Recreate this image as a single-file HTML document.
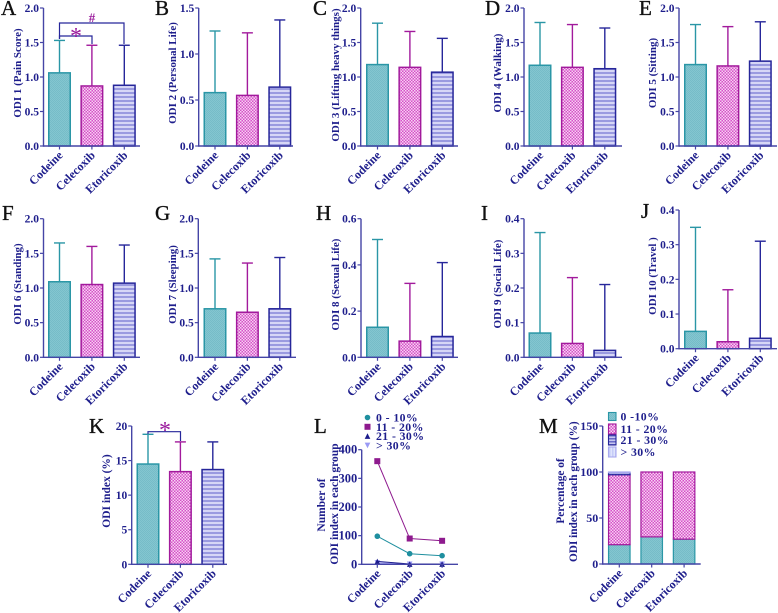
<!DOCTYPE html>
<html lang="en">
<head>
<meta charset="utf-8">
<title>ODI scores by treatment group</title>
<style>
html,body{margin:0;padding:0;background:#fff;width:778px;height:613px;overflow:hidden}
svg{display:block;filter:blur(.3px)}
text{font-family:"Liberation Serif",serif;font-weight:bold;fill:#1e1e8c}
.letter{font-weight:normal;font-size:21px;fill:#111;stroke:#111;stroke-width:.35px}
.tick{font-size:11.5px}
.cat{font-size:12px}
.ytitle{font-size:11px}
.leg{font-size:11.8px;letter-spacing:.4px}
</style>
</head>
<body>
<svg id="fig" xmlns="http://www.w3.org/2000/svg" width="778" height="613" viewBox="0 0 778 613">
<defs>
<pattern id="pTeal" width="2" height="2" patternUnits="userSpaceOnUse"><rect width="2" height="2" fill="#84c6d0"/><rect width="1" height="1" fill="#76bcc8"/><rect x="1" y="1" width="1" height="1" fill="#76bcc8"/></pattern>
<pattern id="pMag" width="3" height="3" patternUnits="userSpaceOnUse"><rect width="3" height="3" fill="#d650c8"/><rect x="0" y="0" width="1.5" height="1.5" fill="#f6d4f2"/><rect x="1.5" y="1.5" width="1.5" height="1.5" fill="#f6d4f2"/></pattern>
<pattern id="pBlue" width="4" height="4" patternUnits="userSpaceOnUse"><rect width="4" height="4" fill="#d6d6f6"/><rect width="4" height="2" fill="#9a9ae0"/></pattern>
<pattern id="pBlue2" width="3" height="3" patternUnits="userSpaceOnUse"><rect width="3" height="3" fill="#c6c6f0"/><rect width="3" height="1.5" fill="#6a6ac8"/></pattern>
<pattern id="pLight" width="3" height="3" patternUnits="userSpaceOnUse"><rect width="3" height="3" fill="#dfe4fc"/><rect width="1.5" height="3" fill="#c6ccf8"/></pattern>
</defs>
</svg>
<script>
var categories = ['Codeine', 'Celecoxib', 'Etoricoxib'];

var ticks2 = ['0.0', '0.5', '1.0', '1.5', '2.0'];
var ticks15 = ['0.0', '0.5', '1.0', '1.5'];
var ticks06 = ['0.0', '0.2', '0.4', '0.6'];
var ticks04 = ['0.0', '0.1', '0.2', '0.3', '0.4'];
var ticksK = ['0', '5', '10', '15', '20'];
var ticksL = ['0', '100', '200', '300', '400'];
var ticksM = ['0', '50', '100', '150'];

var odi1Mean = [1.06, 0.87, 0.88];
var odi1Upper = [1.53, 1.46, 1.46];
var odi2Mean = [0.58, 0.55, 0.64];
var odi2Upper = [1.25, 1.23, 1.37];
var odi3Mean = [1.18, 1.14, 1.07];
var odi3Upper = [1.78, 1.66, 1.56];
var odi4Mean = [1.17, 1.14, 1.12];
var odi4Upper = [1.79, 1.76, 1.71];
var odi5Mean = [1.18, 1.16, 1.23];
var odi5Upper = [1.76, 1.73, 1.80];
var odi6Mean = [1.09, 1.05, 1.07];
var odi6Upper = [1.65, 1.60, 1.62];
var odi7Mean = [0.70, 0.65, 0.70];
var odi7Upper = [1.42, 1.36, 1.44];
var odi8Mean = [0.13, 0.07, 0.09];
var odi8Upper = [0.51, 0.32, 0.41];
var odi9Mean = [0.07, 0.04, 0.02];
var odi9Upper = [0.36, 0.23, 0.21];
var odi10Mean = [0.05, 0.02, 0.03];
var odi10Upper = [0.35, 0.17, 0.31];
var indexMean = [14.5, 13.4, 13.7];
var indexUpper = [18.8, 17.7, 17.7];

var legendLabelsL = ['0 - 10%', '11 - 20%', '21 - 30%', '> 30%'];
var countBand0to10 = [98, 37, 30];
var countBand11to20 = [360, 90, 82];
var countBand21to30 = [10, 1, 1];
var countBandOver30 = [5, 0, 0];

var legendLabelsM = ['0 -10%', '11 - 20%', '21 - 30%', '> 30%'];
var pctBand0to10 = [21, 29.5, 27];
var pctBand11to20 = [76, 70.5, 73];
var pctBand21to30 = [2.2, 0, 0];
var pctBandOver30 = [0.8, 0, 0];

var svg = document.getElementById('fig');
var NS = 'http://www.w3.org/2000/svg';
var TEAL = '#2a96a6', MAG = '#a21a9c', BLUE = '#26269a', AXIS = '#4545a6';
var strokes = [TEAL, MAG, BLUE];
var fills = ['url(#pTeal)', 'url(#pMag)', 'url(#pBlue)'];

function mk(tag, parent, attrs, txt) {
  var e = document.createElementNS(NS, tag);
  for (var k in attrs) e.setAttribute(k, attrs[k]);
  if (txt !== undefined) e.textContent = txt;
  parent.appendChild(e);
  return e;
}

function yScale(p) {
  var max = parseFloat(p.ticks[p.ticks.length - 1]);
  return function (v) { return p.y0 - (v / max) * (p.y0 - p.top); };
}
function xScale(p) {
  return function (i) { return p.first + i * p.step; };
}

function drawAxes(p, g) {
  var y = yScale(p), x = xScale(p);
  var yAxis = mk('line', g, {x1: p.ax, x2: p.ax, y1: p.top, y2: p.y0 + 0.7, stroke: AXIS, 'stroke-width': 1.4});
  
  
  var xAxis = mk('line', g, {x1: p.ax, x2: p.end, y1: p.y0, y2: p.y0, stroke: AXIS, 'stroke-width': 1.4});
  
  
  p.ticks.forEach(function (t) {
    var v = parseFloat(t);
    mk('line', g, {x1: p.ax - 3.5, x2: p.ax, y1: y(v), y2: y(v), stroke: AXIS, 'stroke-width': 1.2});
    var lab = mk('text', g, {class: 'tick', x: p.ax - 4.5, y: y(v) + 4, 'text-anchor': 'end', style: p.tickSize ? 'font-size:' + p.tickSize + 'px' : ''}, t);
    
    
  });
  categories.forEach(function (c, i) {
    mk('line', g, {x1: x(i), x2: x(i), y1: p.y0, y2: p.y0 + 3.5, stroke: AXIS, 'stroke-width': 1.2});
    var ax = x(i) + 4, ay = p.y0 + 10;
    var lab = mk('text', g, {class: 'cat', x: ax, y: ay, 'text-anchor': 'end', transform: 'rotate(-45 ' + ax + ' ' + ay + ')'}, c);
    
    
  });
  p.title.forEach(function (line, i) {
    var tx = p.titleX[i], ty = p.titleY[i];
    var lab = mk('text', g, {class: 'ytitle', x: tx, y: ty, 'text-anchor': 'middle', transform: 'rotate(-90 ' + tx + ' ' + ty + ')', style: p.titleSize ? 'font-size:' + p.titleSize + 'px' : ''}, line);
    
    
  });
  var letter = mk('text', g, {class: 'letter', x: p.lx, y: p.ly}, p.letter);
  
  
}

function drawBars(p, g, means, uppers) {
  var y = yScale(p), x = xScale(p), w = 21.5;
  means.forEach(function (m, i) {
    var cx = x(i);
    var err = mk('line', g, {x1: cx, x2: cx, y1: y(uppers[i]), y2: y(m), stroke: strokes[i], 'stroke-width': 1.4});
    
    
    var cap = mk('line', g, {x1: cx - 5.5, x2: cx + 5.5, y1: y(uppers[i]), y2: y(uppers[i]), stroke: strokes[i], 'stroke-width': 1.4});
    
    
    var bar = mk('rect', g, {x: cx - w / 2, y: y(m), width: w, height: p.y0 - y(m), fill: fills[i], stroke: strokes[i], 'stroke-width': 1.5});
    
    
  });
}

var barPanels = [
  {letter: 'A', lx: 1, ly: 15, ax: 43.5, first: 59.5, step: 32.4, end: 140, y0: 146, top: 8, ticks: ticks2, mean: odi1Mean, upper: odi1Upper, title: ['ODI 1 (Pain Score)'], titleX: [21], titleY: [73]},
  {letter: 'B', lx: 155, ly: 15, ax: 198.7, first: 215, step: 32.4, end: 293, y0: 146, top: 8, ticks: ticks15, mean: odi2Mean, upper: odi2Upper, title: ['ODI 2 (Personal Life)'], titleX: [176], titleY: [73]},
  {letter: 'C', lx: 313, ly: 15, ax: 360.7, first: 377.5, step: 32.4, end: 458, y0: 146, top: 8, ticks: ticks2, mean: odi3Mean, upper: odi3Upper, title: ['ODI 3 (Lifting heavy things)'], titleX: [339], titleY: [75]},
  {letter: 'D', lx: 485, ly: 15, ax: 524, first: 540, step: 32.4, end: 622, y0: 146, top: 8, ticks: ticks2, mean: odi4Mean, upper: odi4Upper, title: ['ODI 4 (Walking)'], titleX: [501], titleY: [73]},
  {letter: 'E', lx: 639, ly: 15, ax: 679, first: 695.5, step: 32.4, end: 777, y0: 146, top: 8, ticks: ticks2, mean: odi5Mean, upper: odi5Upper, title: ['ODI 5 (Sitting)'], titleX: [656], titleY: [73]},
  {letter: 'F', lx: 2, ly: 220, ax: 43.5, first: 59.5, step: 32.4, end: 140, y0: 357.3, top: 218.7, ticks: ticks2, mean: odi6Mean, upper: odi6Upper, title: ['ODI 6 (Standing)'], titleX: [21], titleY: [284]},
  {letter: 'G', lx: 155, ly: 220, ax: 198.3, first: 215, step: 32.4, end: 296, y0: 357.3, top: 218.7, ticks: ticks2, mean: odi7Mean, upper: odi7Upper, title: ['ODI 7 (Sleeping)'], titleX: [176], titleY: [284.5]},
  {letter: 'H', lx: 316, ly: 220, ax: 361, first: 377.5, step: 32.4, end: 458, y0: 357.3, top: 218.7, ticks: ticks06, mean: odi8Mean, upper: odi8Upper, title: ['ODI 8 (Sexual Life)'], titleX: [339], titleY: [284.5]},
  {letter: 'I', lx: 481, ly: 220, ax: 524, first: 540, step: 32.4, end: 622, y0: 357.3, top: 218.7, ticks: ticks04, mean: odi9Mean, upper: odi9Upper, title: ['ODI 9 (Social Life)'], titleX: [501], titleY: [284]},
  {letter: 'J', lx: 641, ly: 218, ax: 679, first: 695.5, step: 32.4, end: 777, y0: 348.7, top: 210, ticks: ticks04, mean: odi10Mean, upper: odi10Upper, title: ['ODI 10 (Travel )'], titleX: [656], titleY: [276]},
  {letter: 'K', lx: 89, ly: 433, ax: 131.7, first: 148, step: 32.4, end: 227, y0: 564.3, top: 426, ticks: ticksK, mean: indexMean, upper: indexUpper, title: ['ODI index (%)'], titleX: [110], titleY: [491], titleSize: 11.5}
];

barPanels.forEach(function (p) {
  var g = mk('g', svg, {});
  
  
  drawBars(p, g, p.mean, p.upper);
  drawAxes(p, g);
});

function bracket(points, name) {
  var b = mk('polyline', svg, {points: points, fill: 'none', stroke: BLUE, 'stroke-width': 1.2});
  
  
}
function mark(x, y, s, size, name, weight) {
  var t = mk('text', svg, {x: x, y: y, 'text-anchor': 'middle', style: 'fill:#9a1a9c;font-weight:' + weight + ';font-size:' + size + 'px'}, s);
  
  
}
bracket('59.5,39 59.5,23 124,23 124,44', 'significance-bracket-hash');
bracket('59.5,39 59.5,36 92,36 92,44', 'significance-bracket-star');
mark(92, 22, '#', 13, 'significance-hash', 'bold');
mark(76, 44, '*', 24, 'significance-star', 'normal');
bracket('148,434 148,431.7 180.5,431.7 180.5,441', 'significance-bracket-k');
mark(165, 438, '*', 24, 'significance-star-k', 'normal');

/* Panel L: line chart */
var pL = {letter: 'L', lx: 314, ly: 433, ax: 361.7, first: 377.3, step: 32.4, end: 458, y0: 564.3, top: 449.7, ticks: ticksL, tickSize: 12.5, title: ['Number of', 'ODI index in each group'], titleX: [325, 338], titleY: [505, 504], titleSize: 11.5};
var gL = mk('g', svg, {});


var seriesL = [
  {values: countBandOver30, color: '#9a9af5', shape: 'down'},
  {values: countBand21to30, color: '#1c1c8c', shape: 'up'},
  {values: countBand11to20, color: '#8e1a8e', shape: 'square'},
  {values: countBand0to10, color: '#1f8f9f', shape: 'circle'}
];
function marker(parent, shape, cx, cy, color, r) {
  var e;
  if (shape === 'circle') e = mk('circle', parent, {cx: cx, cy: cy, r: r, fill: color});
  else if (shape === 'square') e = mk('rect', parent, {x: cx - r, y: cy - r, width: 2 * r, height: 2 * r, fill: color});
  else if (shape === 'up') e = mk('polygon', parent, {points: (cx - r) + ',' + (cy + r) + ' ' + (cx + r) + ',' + (cy + r) + ' ' + cx + ',' + (cy - r), fill: color});
  else e = mk('polygon', parent, {points: (cx - r) + ',' + (cy - r) + ' ' + (cx + r) + ',' + (cy - r) + ' ' + cx + ',' + (cy + r), fill: color});
  return e;
}
(function () {
  var y = yScale(pL), x = xScale(pL);
  seriesL.forEach(function (s) {
    var pts = s.values.map(function (v, i) { return x(i) + ',' + y(v); }).join(' ');
    var line = mk('polyline', gL, {points: pts, fill: 'none', stroke: s.color, 'stroke-width': 1});
    
    
    s.values.forEach(function (v, i) {
      var m = marker(gL, s.shape, x(i), y(v), s.color, s.shape === 'square' ? 3 : 2.8);
      
      
    });
  });
  drawAxes(pL, gL);
  var legShapes = ['circle', 'square', 'up', 'down'];
  var legColors = ['#1f8f9f', '#8e1a8e', '#1c1c8c', '#9a9af5'];
  legendLabelsL.forEach(function (t, i) {
    var ly = 417.5 + i * 9.3;
    var m = marker(gL, legShapes[i], 367.5, ly, legColors[i], i === 1 ? 3 : 2.8);
    
    
    var lab = mk('text', gL, {class: 'leg', x: 376, y: ly + 4}, t);
    
    
  });
})();

/* Panel M: stacked bars */
var pM = {letter: 'M', lx: 539, ly: 433, ax: 602.7, first: 619.3, step: 32.4, end: 700.7, y0: 564, top: 426, ticks: ticksM, tickSize: 12, title: ['Percentage of', 'ODI index in each group (%)'], titleX: [564, 577], titleY: [491, 491.7], titleSize: 11.3};
var gM = mk('g', svg, {});


var stackM = [
  {values: pctBand0to10, fill: 'url(#pTeal)', stroke: TEAL},
  {values: pctBand11to20, fill: 'url(#pMag)', stroke: MAG},
  {values: pctBand21to30, fill: 'url(#pBlue2)', stroke: BLUE},
  {values: pctBandOver30, fill: 'url(#pLight)', stroke: '#a8a8ee'}
];
(function () {
  var y = yScale(pM), x = xScale(pM), w = 21.5;
  categories.forEach(function (c, i) {
    var base = 0;
    stackM.forEach(function (s) {
      var v = s.values[i];
      var r = mk('rect', gM, {x: x(i) - w / 2, y: y(base + v), width: w, height: y(base) - y(base + v), fill: s.fill, stroke: v > 0 ? s.stroke : 'none', 'stroke-width': 1.2});
      
      
      base += v;
    });
  });
  drawAxes(pM, gM);
  var legY = [416.5, 429, 440, 452];
  var legH = [8, 10, 10, 10];
  legendLabelsM.forEach(function (t, i) {
    var sw = mk('rect', gM, {x: 608.5, y: legY[i] - legH[i] / 2, width: 7.5, height: legH[i], fill: stackM[i].fill, stroke: stackM[i].stroke, 'stroke-width': 1.1});
    
    
    var lab = mk('text', gM, {class: 'leg', x: 620.5, y: legY[i] + 4}, t);
    
    
  });
})();
</script>
</body>
</html>
